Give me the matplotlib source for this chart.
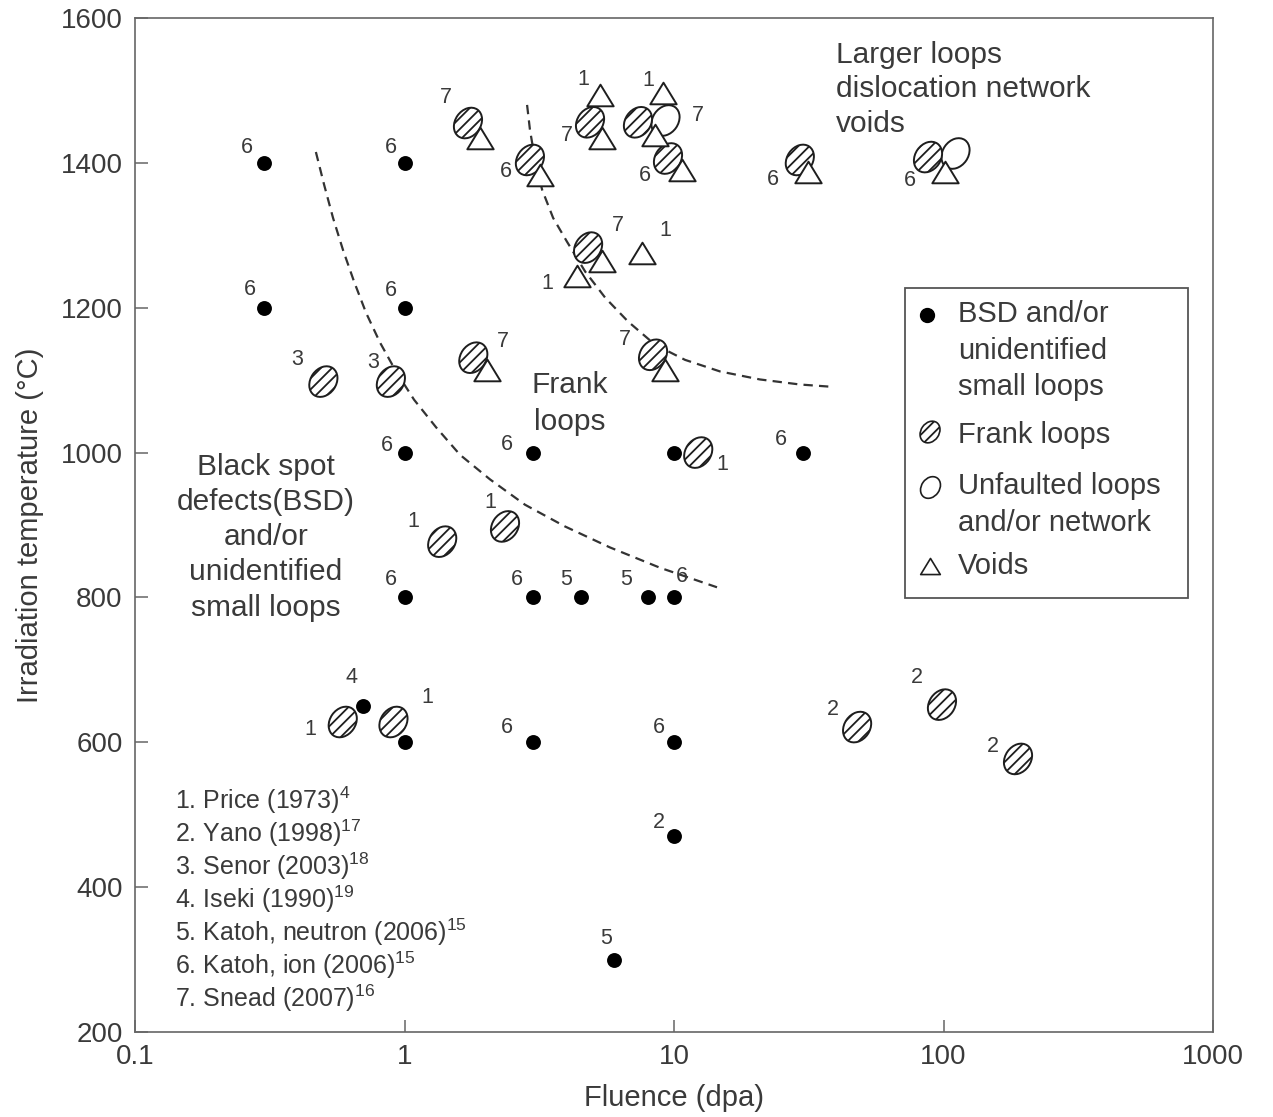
import matplotlib
matplotlib.use('Agg')
import matplotlib.pyplot as plt
from matplotlib.path import Path
from matplotlib.transforms import Affine2D
from matplotlib.patches import Rectangle

plt.rcParams['font.family'] = ['Liberation Sans', 'DejaVu Sans']
plt.rcParams['mathtext.default'] = 'regular'
plt.rcParams['hatch.linewidth'] = 1.3

# ---------------- data ----------------
# Black spot defects (BSD) and/or unidentified small loops
bsd_fluence = [0.3, 1, 0.3, 1, 1, 3, 10, 30, 1, 3, 4.5, 8, 10, 0.7, 1, 3, 10, 10, 6]
bsd_temp = [1400, 1400, 1200, 1200, 1000, 1000, 1000, 1000, 800, 800, 800, 800, 800,
            650, 600, 600, 600, 470, 300]
bsd_ref = ['6', '6', '6', '6', '6', '6', '', '6', '6', '6', '5', '5', '6',
           '4', '', '6', '6', '2', '5']

# Frank loops
frank_fluence = [1.72, 2.92, 4.88, 7.35, 9.5, 29.3, 87.6, 4.8, 1.8, 8.36, 0.5, 0.89,
                 12.3, 1.38, 2.36, 0.59, 0.91, 47.8, 98.7, 189]
frank_temp = [1455, 1404, 1456, 1456, 1406, 1404, 1408, 1283, 1131, 1135, 1098, 1098,
              1000, 877, 898, 628, 628, 621, 652, 577]
frank_ref = ['7', '6', '7', '', '6', '6', '6', '7', '7', '7', '3', '3',
             '1', '1', '1', '1', '1', '2', '2', '2']

# Unfaulted loops and/or network
unf_fluence = [9.26, 110]
unf_temp = [1459, 1413]
unf_ref = ['7', '']

# Voids
void_fluence = [5.31, 9.1, 1.91, 5.4, 8.5, 3.18, 10.7, 31.4, 101, 5.4, 4.37, 7.61, 2.02, 9.26]
void_temp = [1494, 1496, 1435, 1434, 1438, 1383, 1390, 1387, 1387, 1265, 1244, 1275, 1114, 1114]
void_ref = ['1', '1', '', '', '', '', '', '', '', '', '1', '1', '', '']

# Regime boundaries (dashed)
bound1_fluence = [0.469, 0.503, 0.543, 0.591, 0.650, 0.720, 0.811, 0.930, 1.085, 1.309,
                  1.606, 2.076, 2.80, 3.94, 5.79, 8.87, 14.44]
bound1_temp = [1415, 1370, 1324, 1280, 1236, 1193, 1152, 1112, 1073, 1035,
               997, 963, 928, 898, 869, 841, 814]
bound2_fluence = [2.85, 2.92, 3.05, 3.24, 3.56, 4.01, 4.68, 5.55, 6.75, 8.50, 10.99,
                  14.82, 20.8, 29.3, 37.9]
bound2_temp = [1480, 1446, 1404, 1363, 1324, 1291, 1250, 1214, 1181, 1149, 1128,
               1112, 1101, 1094, 1091]

x_ticks = [0.1, 1, 10, 100, 1000]
x_tick_labels = ['0.1', '1', '10', '100', '1000']
y_ticks = [200, 400, 600, 800, 1000, 1200, 1400, 1600]

references = [
    r'1. Price (1973)$^{4}$',
    r'2. Yano (1998)$^{17}$',
    r'3. Senor (2003)$^{18}$',
    r'4. Iseki (1990)$^{19}$',
    r'5. Katoh, neutron (2006)$^{15}$',
    r'6. Katoh, ion (2006)$^{15}$',
    r'7. Snead (2007)$^{16}$',
]

# ---------------- label offsets (pixels: right, up) ----------------
bsd_off = [(-17, 15), (-14, 15), (-14, 18), (-14, 17), (-18, 7), (-26, 8), (0, 0), (-22, 13),
           (-14, 18), (-16, 18), (-14, 18), (-22, 18), (8, 21), (-11, 29), (0, 0),
           (-26, 15), (-15, 15), (-15, 14), (-8, 21)]
frank_off = [(-22, 26), (-24, -12), (-23, -13), (0, 0), (-23, -17), (-27, -20), (-18, -23),
             (30, 22), (30, 16), (-28, 15), (-26, 22), (-18, 19), (24, -12), (-29, 20),
             (-15, 24), (-32, -7), (34, 25), (-24, 18), (-25, 27), (-25, 12)]
unf_off = [(33, 5), (0, 0)]
void_off = [(-17, 15), (-15, 13), (0, 0), (0, 0), (0, 0), (0, 0), (0, 0), (0, 0), (0, 0),
            (0, 0), (-30, -8), (23, 23), (0, 0), (0, 0)]

# ---------------- styles ----------------
TXT = '#3a3a3a'
EDGE = '#1e1e1e'
ellipse_marker = Path.unit_circle().transformed(Affine2D().scale(1.0, 0.78).rotate_deg(55))
tri_marker = Path([(0, 0.82), (-1, -0.82), (1, -0.82), (0, 0.82)],
                  [Path.MOVETO, Path.LINETO, Path.LINETO, Path.CLOSEPOLY])
HATCH = '///'

fig = plt.figure(figsize=(12.73, 11.17), dpi=100)
ax = fig.add_axes([135 / 1273, (1117 - 1032) / 1117, 1078 / 1273, 1014 / 1117])
ax.set_xscale('log')
ax.set_xlim(0.1, 1000)
ax.set_ylim(200, 1600)

# boundaries
dash = (0, (4.2, 2.8))
ax.plot(bound1_fluence, bound1_temp, color='#333333', lw=1.6, ls=dash, zorder=1.5)
ax.plot(bound2_fluence, bound2_temp, color='#333333', lw=1.6, ls=dash, zorder=1.5)

# markers
ax.scatter(unf_fluence, unf_temp, s=520, marker=ellipse_marker, facecolor='white',
           edgecolor=EDGE, linewidths=1.4, zorder=2.5)
ax.scatter(frank_fluence, frank_temp, s=520, marker=ellipse_marker, facecolor='white',
           edgecolor=EDGE, hatch=HATCH, linewidths=1.4, zorder=3)
ax.scatter(bsd_fluence, bsd_temp, s=115, marker='o', color='black', linewidths=0, zorder=3)
ax.scatter(void_fluence, void_temp, s=360, marker=tri_marker, facecolor='white',
           edgecolor=EDGE, linewidths=1.4, zorder=4)


def put_labels(xs, ys, refs, offs):
    for x, y, r, (dx, dy) in zip(xs, ys, refs, offs):
        if r:
            ax.annotate(r, xy=(x, y), xytext=(dx * 0.72, dy * 0.72), textcoords='offset points',
                        ha='center', va='center', fontsize=15.5, color=TXT, zorder=5)


put_labels(bsd_fluence, bsd_temp, bsd_ref, bsd_off)
put_labels(frank_fluence, frank_temp, frank_ref, frank_off)
put_labels(unf_fluence, unf_temp, unf_ref, unf_off)
put_labels(void_fluence, void_temp, void_ref, void_off)

# region annotations
ax.text(0.6503, 0.9295, 'Larger loops\ndislocation network\nvoids', transform=ax.transAxes,
        ha='left', va='center', fontsize=21.5, color=TXT, linespacing=1.3)
ax.text(0.4035, 0.6200, 'Frank\nloops', transform=ax.transAxes,
        ha='center', va='center', fontsize=21.5, color=TXT, linespacing=1.38)
ax.text(0.1215, 0.4880, 'Black spot\ndefects(BSD)\nand/or\nunidentified\nsmall loops',
        transform=ax.transAxes, ha='center', va='center', fontsize=21.5, color=TXT,
        linespacing=1.33)

# reference list
for i, ref in enumerate(references):
    ax.text(0.0371, (1032 - (800 + 33 * i)) / 1014, ref, transform=ax.transAxes,
            ha='left', va='center', fontsize=18, color=TXT)

# legend (drawn manually)
ax.add_patch(Rectangle((0.7143, 0.4280), 0.2625, 0.3057, transform=ax.transAxes,
                       facecolor='white', edgecolor='#555555', lw=1.3, zorder=6))
ax.scatter([0.7347], [0.7071], s=100, marker='o', color='black', transform=ax.transAxes, zorder=7)
ax.scatter([0.7375], [0.5917], s=260, marker=ellipse_marker, facecolor='white', edgecolor=EDGE,
           hatch=HATCH, linewidths=1.2, transform=ax.transAxes, zorder=7)
ax.scatter([0.7375], [0.5375], s=260, marker=ellipse_marker, facecolor='white', edgecolor=EDGE,
           linewidths=1.2, transform=ax.transAxes, zorder=7)
ax.scatter([0.7375], [0.4596], s=200, marker=tri_marker, facecolor='white', edgecolor=EDGE,
           linewidths=1.2, transform=ax.transAxes, zorder=7)
leg_kw = dict(transform=ax.transAxes, ha='left', va='center', fontsize=21, color=TXT,
              linespacing=1.4, zorder=7)
ax.text(0.7635, 0.6720, 'BSD and/or\nunidentified\nsmall loops', **leg_kw)
ax.text(0.7635, 0.5888, 'Frank loops', **leg_kw)
ax.text(0.7635, 0.5200, 'Unfaulted loops\nand/or network', **leg_kw)
ax.text(0.7635, 0.4596, 'Voids', **leg_kw)

# axes styling
ax.set_xticks(x_ticks)
ax.set_xticklabels(x_tick_labels)
ax.set_yticks(y_ticks)
ax.minorticks_off()
ax.tick_params(axis='both', direction='in', length=9, width=1.1, colors='#666666',
               labelcolor=TXT, labelsize=20)
ax.tick_params(axis='x', pad=9)
ax.tick_params(axis='y', pad=9)
for sp in ax.spines.values():
    sp.set_color('#666666')
    sp.set_linewidth(1.2)
ax.set_xlabel('Fluence (dpa)', fontsize=21, color=TXT, labelpad=10)
ax.set_ylabel('Irradiation temperature (\u00b0C)', fontsize=21, color=TXT, labelpad=12)

fig.savefig('out.png', dpi=100)
